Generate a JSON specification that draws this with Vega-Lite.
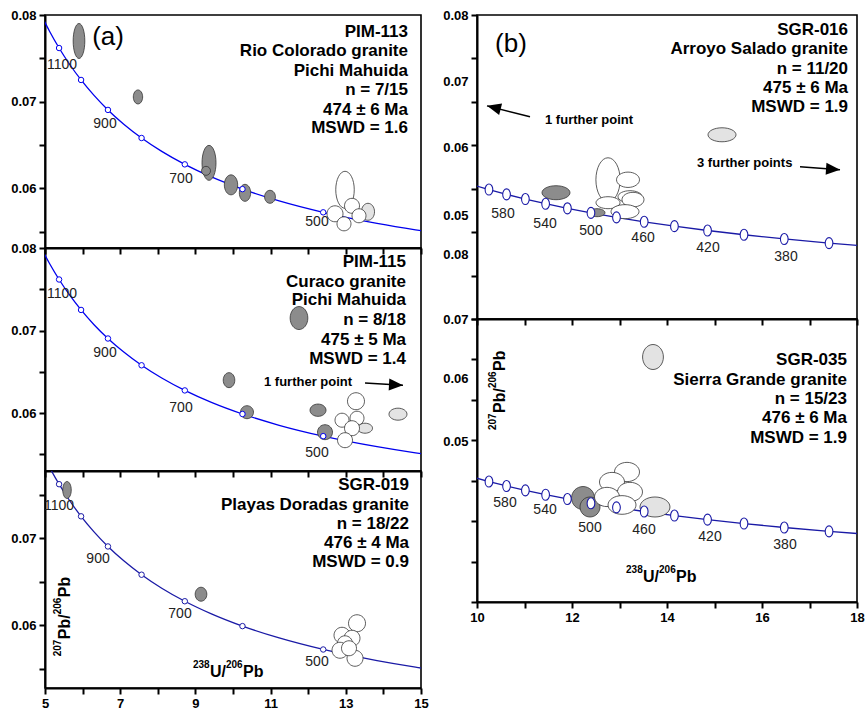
{
"$schema": "https://vega.github.io/schema/vega-lite/v6.json",
"padding": {"left": 9, "top": 8, "right": 4, "bottom": 4},
"background": "white",
"config": {
  "font": "Liberation Sans",
  "view": {"stroke": "#000", "strokeWidth": 1.6},
  "axis": {"labelFont": "Liberation Sans", "labelFontWeight": "bold", "labelFontSize": 13, "labelColor": "#000", "domainColor": "#000", "domainWidth": 2, "tickColor": "#000", "tickWidth": 2, "tickSize": 6, "labelPadding": 3, "grid": false, "labelOverlap": false, "labelFlush": false, "title": null}
},
"datasets": {
  "curveL": [{"x":4.9783,"y":0.079315},{"x":5.12044,"y":0.078123},{"x":5.37459,"y":0.076187},{"x":5.65301,"y":0.074314},{"x":5.95934,"y":0.0725},{"x":6.29798,"y":0.070744},{"x":6.67432,"y":0.069042},{"x":7.095,"y":0.067395},{"x":7.56835,"y":0.065799},{"x":8.10492,"y":0.064254},{"x":8.71822,"y":0.062757},{"x":9.42596,"y":0.061306},{"x":10.25178,"y":0.059901},{"x":11.22787,"y":0.058539},{"x":12.39928,"y":0.057219},{"x":13.83117,"y":0.05594},{"x":14.85403,"y":0.05519},{"x":15.62122,"y":0.054701}],
  "mkL": [{"t":1100,"x":5.37459,"y":0.076187},{"t":1000,"x":5.95934,"y":0.0725},{"t":900,"x":6.67432,"y":0.069042},{"t":800,"x":7.56835,"y":0.065799},{"t":700,"x":8.71822,"y":0.062757},{"t":600,"x":10.25178,"y":0.059901},{"t":500,"x":12.39928,"y":0.057219}],
  "curveR": [{"t":620,"x":9.90545,"y":0.060458},{"t":600,"x":10.25178,"y":0.059901},{"t":580,"x":10.622,"y":0.059351},{"t":560,"x":11.0187,"y":0.058808},{"t":540,"x":11.44479,"y":0.058272},{"t":520,"x":11.90367,"y":0.057742},{"t":500,"x":12.39928,"y":0.057219},{"t":480,"x":12.93623,"y":0.056703},{"t":460,"x":13.51995,"y":0.056193},{"t":440,"x":14.15662,"y":0.055689},{"t":420,"x":14.85403,"y":0.05519},{"t":400,"x":15.62122,"y":0.054701},{"t":380,"x":16.46917,"y":0.054215},{"t":360,"x":17.41136,"y":0.053736},{"t":340,"x":18.4644,"y":0.053263}],
  "ell": [
    {"p":"a1","g":"d","s":"t3","e":35,"x":5.904,"y":0.077},
    {"p":"a1","g":"d","s":"t15","e":14,"x":7.473,"y":0.07054},
    {"p":"a1","g":"d","s":"t25","e":35,"x":9.362,"y":0.06293},
    {"p":"a1","g":"d","s":"c","e":9,"x":9.282,"y":0.06201},
    {"p":"a1","g":"d","s":"t15","e":20,"x":9.947,"y":0.06039},
    {"p":"a1","g":"d","s":"t15","e":17,"x":10.319,"y":0.05947},
    {"p":"a1","g":"d","s":"t12","e":13,"x":10.984,"y":0.05901},
    {"p":"a1","g":"l","s":"t13","e":17,"x":13.59,"y":0.05728},
    {"p":"a1","g":"w","s":"t2","e":37,"x":12.979,"y":0.05982},
    {"p":"a1","g":"w","s":"c","e":15,"x":13.165,"y":0.05797},
    {"p":"a1","g":"w","s":"c","e":14,"x":13.351,"y":0.05682},
    {"p":"a1","g":"w","s":"c","e":16,"x":12.713,"y":0.05705},
    {"p":"a1","g":"w","s":"c","e":14,"x":12.952,"y":0.05589},
    {"p":"a2","g":"d","s":"t13","e":23,"x":11.755,"y":0.07152},
    {"p":"a2","g":"d","s":"t13","e":15,"x":9.894,"y":0.064},
    {"p":"a2","g":"d","s":"c","e":13,"x":10.372,"y":0.06012},
    {"p":"a2","g":"d","s":"w13","e":16,"x":12.261,"y":0.06036},
    {"p":"a2","g":"w","s":"c","e":17,"x":13.271,"y":0.06145},
    {"p":"a2","g":"l","s":"w15","e":18,"x":14.388,"y":0.05988},
    {"p":"a2","g":"d","s":"c","e":15,"x":12.447,"y":0.0577},
    {"p":"a2","g":"l","s":"w15","e":15,"x":13.511,"y":0.05818},
    {"p":"a2","g":"w","s":"c","e":14,"x":12.899,"y":0.05915},
    {"p":"a2","g":"w","s":"c","e":14,"x":13.298,"y":0.05939},
    {"p":"a2","g":"w","s":"c","e":15,"x":13.165,"y":0.05818},
    {"p":"a2","g":"w","s":"c","e":15,"x":12.979,"y":0.05673},
    {"p":"a3","g":"d","s":"t2","e":17,"x":5.585,"y":0.07552},
    {"p":"a3","g":"d","s":"t12","e":14,"x":9.149,"y":0.06356},
    {"p":"a3","g":"w","s":"c","e":17,"x":13.298,"y":0.06023},
    {"p":"a3","g":"w","s":"c","e":16,"x":12.899,"y":0.05885},
    {"p":"a3","g":"w","s":"c","e":16,"x":13.165,"y":0.05851},
    {"p":"a3","g":"w","s":"c","e":15,"x":12.979,"y":0.05793},
    {"p":"a3","g":"w","s":"c","e":16,"x":12.846,"y":0.05713},
    {"p":"a3","g":"w","s":"c","e":16,"x":13.245,"y":0.05621},
    {"p":"a3","g":"w","s":"c","e":15,"x":13.085,"y":0.05736},
    {"p":"b1","g":"d","s":"w2","e":28,"x":11.663,"y":0.05954},
    {"p":"b1","g":"l","s":"w2","e":28,"x":15.158,"y":0.06621},
    {"p":"b1","g":"d","s":"w2","e":16,"x":12.526,"y":0.05724},
    {"p":"b1","g":"w","s":"t18","e":44,"x":12.758,"y":0.06103},
    {"p":"b1","g":"w","s":"w15","e":23,"x":13.179,"y":0.06103},
    {"p":"b1","g":"w","s":"w2","e":24,"x":13.221,"y":0.05908},
    {"p":"b1","g":"w","s":"w15","e":22,"x":13.284,"y":0.05874},
    {"p":"b1","g":"w","s":"w2","e":24,"x":12.758,"y":0.05839},
    {"p":"b1","g":"w","s":"w2","e":28,"x":13.116,"y":0.05736},
    {"p":"b2","g":"l","s":"t12","e":25,"x":13.705,"y":0.0753},
    {"p":"b2","g":"d","s":"c","e":23,"x":12.232,"y":0.05786},
    {"p":"b2","g":"d","s":"c","e":20,"x":12.379,"y":0.05675},
    {"p":"b2","g":"l","s":"w15","e":30,"x":13.747,"y":0.05675},
    {"p":"b2","g":"w","s":"w13","e":25,"x":13.158,"y":0.06108},
    {"p":"b2","g":"w","s":"w13","e":25,"x":12.842,"y":0.05984},
    {"p":"b2","g":"w","s":"w13","e":25,"x":13.221,"y":0.05861},
    {"p":"b2","g":"w","s":"w13","e":25,"x":12.737,"y":0.05799},
    {"p":"b2","g":"w","s":"w15","e":28,"x":13.053,"y":0.057}
  ],
  "lab": [
    {"p":"a1","k":"age","x":5.452,"y":0.07423,"t":"1100"},
    {"p":"a1","k":"age","x":6.596,"y":0.06743,"t":"900"},
    {"p":"a1","k":"age","x":8.617,"y":0.06108,"t":"700"},
    {"p":"a1","k":"age","x":12.234,"y":0.05612,"t":"500"},
    {"p":"a2","k":"age","x":5.452,"y":0.07442,"t":"1100"},
    {"p":"a2","k":"age","x":6.596,"y":0.06727,"t":"900"},
    {"p":"a2","k":"age","x":8.617,"y":0.06061,"t":"700"},
    {"p":"a2","k":"age","x":12.234,"y":0.05515,"t":"500"},
    {"p":"a3","k":"age","x":5.372,"y":0.07368,"t":"1100"},
    {"p":"a3","k":"age","x":6.41,"y":0.06759,"t":"900"},
    {"p":"a3","k":"age","x":8.59,"y":0.06126,"t":"700"},
    {"p":"a3","k":"age","x":12.234,"y":0.05575,"t":"500"},
    {"p":"b1","k":"age","x":10.547,"y":0.05713,"t":"580"},
    {"p":"b1","k":"age","x":11.432,"y":0.05598,"t":"540"},
    {"p":"b1","k":"age","x":12.4,"y":0.05517,"t":"500"},
    {"p":"b1","k":"age","x":13.495,"y":0.05437,"t":"460"},
    {"p":"b1","k":"age","x":14.863,"y":0.05322,"t":"420"},
    {"p":"b1","k":"age","x":16.505,"y":0.05218,"t":"380"},
    {"p":"b2","k":"age","x":10.589,"y":0.05724,"t":"580"},
    {"p":"b2","k":"age","x":11.432,"y":0.05638,"t":"540"},
    {"p":"b2","k":"age","x":12.379,"y":0.05415,"t":"500"},
    {"p":"b2","k":"age","x":13.516,"y":0.05391,"t":"460"},
    {"p":"b2","k":"age","x":14.905,"y":0.05304,"t":"420"},
    {"p":"b2","k":"age","x":16.484,"y":0.05205,"t":"380"},
    {"p":"a1","k":"title","x":14.654,"y":0.07804,"t":"PIM-113"},
    {"p":"a1","k":"title","x":14.654,"y":0.07585,"t":"Rio Colorado granite"},
    {"p":"a1","k":"title","x":14.654,"y":0.07354,"t":"Pichi Mahuida"},
    {"p":"a1","k":"title","x":14.654,"y":0.07135,"t":"n = 7/15"},
    {"p":"a1","k":"title","x":14.654,"y":0.06904,"t":"474 ± 6 Ma"},
    {"p":"a1","k":"title","x":14.654,"y":0.06697,"t":"MSWD = 1.6"},
    {"p":"a2","k":"title","x":14.601,"y":0.0783,"t":"PIM-115"},
    {"p":"a2","k":"title","x":14.601,"y":0.07588,"t":"Curaco granite"},
    {"p":"a2","k":"title","x":14.601,"y":0.0737,"t":"Pichi Mahuida"},
    {"p":"a2","k":"title","x":14.601,"y":0.07127,"t":"n = 8/18"},
    {"p":"a2","k":"title","x":14.601,"y":0.06885,"t":"475 ± 5 Ma"},
    {"p":"a2","k":"title","x":14.601,"y":0.06655,"t":"MSWD = 1.4"},
    {"p":"a3","k":"title","x":14.681,"y":0.07609,"t":"SGR-019"},
    {"p":"a3","k":"title","x":14.681,"y":0.07379,"t":"Playas Doradas granite"},
    {"p":"a3","k":"title","x":14.681,"y":0.07161,"t":"n = 18/22"},
    {"p":"a3","k":"title","x":14.681,"y":0.06943,"t":"476 ± 4 Ma"},
    {"p":"a3","k":"title","x":14.681,"y":0.06724,"t":"MSWD = 0.9"},
    {"p":"b1","k":"title","x":17.811,"y":0.07828,"t":"SGR-016"},
    {"p":"b1","k":"title","x":17.811,"y":0.07609,"t":"Arroyo Salado granite"},
    {"p":"b1","k":"title","x":17.811,"y":0.07379,"t":"n = 11/20"},
    {"p":"b1","k":"title","x":17.811,"y":0.07161,"t":"475 ± 6 Ma"},
    {"p":"b1","k":"title","x":17.811,"y":0.06943,"t":"MSWD = 1.9"},
    {"p":"b2","k":"title","x":17.789,"y":0.07493,"t":"SGR-035"},
    {"p":"b2","k":"title","x":17.789,"y":0.07246,"t":"Sierra Grande granite"},
    {"p":"b2","k":"title","x":17.789,"y":0.07011,"t":"n = 15/23"},
    {"p":"b2","k":"title","x":17.789,"y":0.06776,"t":"476 ± 6 Ma"},
    {"p":"b2","k":"title","x":17.789,"y":0.06528,"t":"MSWD = 1.9"},
    {"p":"a2","k":"note","x":10.824,"y":0.06376,"t":"1 further point"},
    {"p":"b1","k":"note","x":11.432,"y":0.06793,"t":"1 further point"},
    {"p":"b1","k":"note","x":14.632,"y":0.06299,"t":"3 further points"},
    {"p":"a1","k":"big","x":6.676,"y":0.07746,"t":"(a)"},
    {"p":"b1","k":"big","x":10.716,"y":0.07667,"t":"(b)"}
  ],
  "ttl": [
    {"p":"a3","k":"xt","x":8.936,"y":0.0546,"s1":"238","m1":"U/","s2":"206","m2":"Pb"},
    {"p":"a3","k":"yt","x":5.532,"y":0.05644,"s1":"207","m1":"Pb/","s2":"206","m2":"Pb"},
    {"p":"b2","k":"xt","x":13.137,"y":0.04809,"s1":"238","m1":"U/","s2":"206","m2":"Pb"},
    {"p":"b2","k":"yt","x":10.484,"y":0.06627,"s1":"207","m1":"Pb/","s2":"206","m2":"Pb"}
  ],
  "arr": [
    {"p":"a2","d":"r","x":13.511,"y":0.06364,"x2":14.521,"y2":0.06339},
    {"p":"b1","d":"l","x":11.116,"y":0.06828,"x2":10.211,"y2":0.06954},
    {"p":"b1","d":"r","x":16.8,"y":0.06253,"x2":17.642,"y2":0.06218}
  ]
},
"hconcat": [
  {
    "vconcat": [
      {
        "width": 376, "height": 233,
        "encoding": {
          "x": {"field":"x","type":"quantitative","scale":{"domain":[5,15]},"axis":{"values":[5,6,7,8,9,10,11,12,13,14,15],"labels":false}},
          "y": {"field":"y","type":"quantitative","scale":{"domain":[0.0531,0.08]},"axis":{"values":[0.055,0.06,0.065,0.07,0.075,0.08],"labelExpr":"round(datum.value*1000) % 10 == 0 ? format(datum.value,'.2f') : ''"}}
        },
        "layer": [
          {"data":{"name":"curveL"},"mark":{"type":"line","clip":true,"color":"#0000ee","strokeWidth":1.3,"interpolate":"monotone"}},
          {"data":{"name":"ell"},"transform":[{"filter":"datum.p=='a1'"}],"mark":{"type":"point","filled":true,"opacity":1,"stroke":"#333","strokeWidth":0.8,"clip":true},
           "encoding":{
             "shape":{"field":"s","type":"nominal","legend":null,"scale":{"domain":["c","t12","t13","t15","t18","t2","t25","t3","w13","w15","w2"],"range":["M 1 0 C 1 0.552 0.552 1 0 1 C -0.552 1 -1 0.552 -1 0 C -1 -0.552 -0.552 -1 0 -1 C 0.552 -1 1 -0.552 1 0 Z","M 0.833 0 C 0.833 0.552 0.46 1 0 1 C -0.46 1 -0.833 0.552 -0.833 0 C -0.833 -0.552 -0.46 -1 0 -1 C 0.46 -1 0.833 -0.552 0.833 0 Z","M 0.77 0 C 0.77 0.552 0.425 1 0 1 C -0.425 1 -0.77 0.552 -0.77 0 C -0.77 -0.552 -0.425 -1 0 -1 C 0.425 -1 0.77 -0.552 0.77 0 Z","M 0.667 0 C 0.667 0.552 0.368 1 0 1 C -0.368 1 -0.667 0.552 -0.667 0 C -0.667 -0.552 -0.368 -1 0 -1 C 0.368 -1 0.667 -0.552 0.667 0 Z","M 0.55 0 C 0.55 0.552 0.304 1 0 1 C -0.304 1 -0.55 0.552 -0.55 0 C -0.55 -0.552 -0.304 -1 0 -1 C 0.304 -1 0.55 -0.552 0.55 0 Z","M 0.5 0 C 0.5 0.552 0.276 1 0 1 C -0.276 1 -0.5 0.552 -0.5 0 C -0.5 -0.552 -0.276 -1 0 -1 C 0.276 -1 0.5 -0.552 0.5 0 Z","M 0.4 0 C 0.4 0.552 0.221 1 0 1 C -0.221 1 -0.4 0.552 -0.4 0 C -0.4 -0.552 -0.221 -1 0 -1 C 0.221 -1 0.4 -0.552 0.4 0 Z","M 0.333 0 C 0.333 0.552 0.184 1 0 1 C -0.184 1 -0.333 0.552 -0.333 0 C -0.333 -0.552 -0.184 -1 0 -1 C 0.184 -1 0.333 -0.552 0.333 0 Z","M 1 0 C 1 0.425 0.552 0.77 0 0.77 C -0.552 0.77 -1 0.425 -1 0 C -1 -0.425 -0.552 -0.77 0 -0.77 C 0.552 -0.77 1 -0.425 1 0 Z","M 1 0 C 1 0.368 0.552 0.667 0 0.667 C -0.552 0.667 -1 0.368 -1 0 C -1 -0.368 -0.552 -0.667 0 -0.667 C 0.552 -0.667 1 -0.368 1 0 Z","M 1 0 C 1 0.276 0.552 0.5 0 0.5 C -0.552 0.5 -1 0.276 -1 0 C -1 -0.276 -0.552 -0.5 0 -0.5 C 0.552 -0.5 1 -0.276 1 0 Z"]}},
             "size":{"field":"e","type":"quantitative","legend":null,"scale":{"type":"pow","exponent":2,"domain":[0,40],"range":[0,1600]}},
             "fill":{"field":"g","type":"nominal","legend":null,"scale":{"domain":["d","w","l"],"range":["#8c8c8c","#ffffff","#e3e3e3"]}}
           }},
          {"data":{"name":"mkL"},"mark":{"type":"point","shape":"circle","size":30,"filled":true,"fill":"#ffffff","stroke":"#0000ee","strokeWidth":1,"opacity":1}},
          {"data":{"name":"lab"},"transform":[{"filter":"datum.p=='a1' && datum.k=='age'"}],"mark":{"type":"text","fontSize":14,"color":"#222"},"encoding":{"text":{"field":"t"}}},
          {"data":{"name":"lab"},"transform":[{"filter":"datum.p=='a1' && datum.k=='title'"}],"mark":{"type":"text","fontSize":17,"fontWeight":"bold","align":"right","color":"#000"},"encoding":{"text":{"field":"t"}}},
          {"data":{"name":"lab"},"transform":[{"filter":"datum.p=='a1' && datum.k=='big'"}],"mark":{"type":"text","fontSize":26,"color":"#000"},"encoding":{"text":{"field":"t"}}}
        ]
      },
      {
        "width": 376, "height": 223,
        "encoding": {
          "x": {"field":"x","type":"quantitative","scale":{"domain":[5,15]},"axis":{"values":[5,6,7,8,9,10,11,12,13,14,15],"labels":false}},
          "y": {"field":"y","type":"quantitative","scale":{"domain":[0.053,0.08]},"axis":{"values":[0.055,0.06,0.065,0.07,0.075,0.08],"labelExpr":"round(datum.value*1000) % 10 == 0 ? format(datum.value,'.2f') : ''"}}
        },
        "layer": [
          {"data":{"name":"curveL"},"mark":{"type":"line","clip":true,"color":"#0000ee","strokeWidth":1.3,"interpolate":"monotone"}},
          {"data":{"name":"ell"},"transform":[{"filter":"datum.p=='a2'"}],"mark":{"type":"point","filled":true,"opacity":1,"stroke":"#333","strokeWidth":0.8,"clip":true},
           "encoding":{
             "shape":{"field":"s","type":"nominal","legend":null},
             "size":{"field":"e","type":"quantitative","legend":null,"scale":{"type":"pow","exponent":2,"domain":[0,40],"range":[0,1600]}},
             "fill":{"field":"g","type":"nominal","legend":null,"scale":{"domain":["d","w","l"],"range":["#8c8c8c","#ffffff","#e3e3e3"]}}
           }},
          {"data":{"name":"mkL"},"mark":{"type":"point","shape":"circle","size":30,"filled":true,"fill":"#ffffff","stroke":"#0000ee","strokeWidth":1,"opacity":1}},
          {"data":{"name":"lab"},"transform":[{"filter":"datum.p=='a2' && datum.k=='age'"}],"mark":{"type":"text","fontSize":14,"color":"#222"},"encoding":{"text":{"field":"t"}}},
          {"data":{"name":"lab"},"transform":[{"filter":"datum.p=='a2' && datum.k=='title'"}],"mark":{"type":"text","fontSize":17,"fontWeight":"bold","align":"right","color":"#000"},"encoding":{"text":{"field":"t"}}},
          {"data":{"name":"lab"},"transform":[{"filter":"datum.p=='a2' && datum.k=='note'"}],"mark":{"type":"text","fontSize":13,"fontWeight":"bold","align":"left","color":"#000"},"encoding":{"text":{"field":"t"}}},
          {"data":{"name":"arr"},"transform":[{"filter":"datum.p=='a2'"}],"mark":{"type":"rule","color":"#000","strokeWidth":1.5},"encoding":{"x2":{"field":"x2"},"y2":{"field":"y2"}}},
          {"data":{"name":"arr"},"transform":[{"filter":"datum.p=='a2'"}],"mark":{"type":"point","shape":"M 0 0 L -2 -0.85 L -2 0.85 Z","size":196,"filled":true,"fill":"#000","opacity":1,"angle":3},"encoding":{"x":{"field":"x2","type":"quantitative"},"y":{"field":"y2","type":"quantitative"}}}
        ]
      },
      {
        "width": 376, "height": 217,
        "encoding": {
          "x": {"field":"x","type":"quantitative","scale":{"domain":[5,15]},"axis":{"values":[5,6,7,8,9,10,11,12,13,14,15],"labelExpr":"datum.value % 2 == 1 ? datum.label : ''"}},
          "y": {"field":"y","type":"quantitative","scale":{"domain":[0.0528,0.0777]},"axis":{"values":[0.055,0.06,0.065,0.07,0.075],"labelExpr":"round(datum.value*1000) % 10 == 0 ? format(datum.value,'.2f') : ''"}}
        },
        "layer": [
          {"data":{"name":"curveL"},"mark":{"type":"line","clip":true,"color":"#1a1aa6","strokeWidth":1.3,"interpolate":"monotone"}},
          {"data":{"name":"ell"},"transform":[{"filter":"datum.p=='a3'"}],"mark":{"type":"point","filled":true,"opacity":1,"stroke":"#333","strokeWidth":0.8,"clip":true},
           "encoding":{
             "shape":{"field":"s","type":"nominal","legend":null},
             "size":{"field":"e","type":"quantitative","legend":null,"scale":{"type":"pow","exponent":2,"domain":[0,40],"range":[0,1600]}},
             "fill":{"field":"g","type":"nominal","legend":null,"scale":{"domain":["d","w","l"],"range":["#8c8c8c","#ffffff","#e3e3e3"]}}
           }},
          {"data":{"name":"mkL"},"mark":{"type":"point","shape":"circle","size":30,"filled":true,"fill":"#ffffff","stroke":"#1a1aa6","strokeWidth":1,"opacity":1}},
          {"data":{"name":"lab"},"transform":[{"filter":"datum.p=='a3' && datum.k=='age'"}],"mark":{"type":"text","fontSize":14,"color":"#222"},"encoding":{"text":{"field":"t"}}},
          {"data":{"name":"lab"},"transform":[{"filter":"datum.p=='a3' && datum.k=='title'"}],"mark":{"type":"text","fontSize":17,"fontWeight":"bold","align":"right","color":"#000"},"encoding":{"text":{"field":"t"}}},
          {"data":{"name":"ttl"},"transform":[{"filter":"datum.p=='a3' && datum.k=='xt'"}],"mark":{"type":"text","align":"left","fontSize":10,"fontWeight":"bold","dx":0,"dy":-7,"color":"#000"},"encoding":{"text":{"field":"s1"}}},
          {"data":{"name":"ttl"},"transform":[{"filter":"datum.p=='a3' && datum.k=='xt'"}],"mark":{"type":"text","align":"left","fontSize":16,"fontWeight":"bold","dx":17,"color":"#000"},"encoding":{"text":{"field":"m1"}}},
          {"data":{"name":"ttl"},"transform":[{"filter":"datum.p=='a3' && datum.k=='xt'"}],"mark":{"type":"text","align":"left","fontSize":10,"fontWeight":"bold","dx":33,"dy":-7,"color":"#000"},"encoding":{"text":{"field":"s2"}}},
          {"data":{"name":"ttl"},"transform":[{"filter":"datum.p=='a3' && datum.k=='xt'"}],"mark":{"type":"text","align":"left","fontSize":16,"fontWeight":"bold","dx":50,"color":"#000"},"encoding":{"text":{"field":"m2"}}},
          {"data":{"name":"ttl"},"transform":[{"filter":"datum.p=='a3' && datum.k=='yt'"}],"mark":{"type":"text","align":"left","angle":270,"fontSize":10,"fontWeight":"bold","dx":0,"dy":-7,"color":"#000"},"encoding":{"text":{"field":"s1"}}},
          {"data":{"name":"ttl"},"transform":[{"filter":"datum.p=='a3' && datum.k=='yt'"}],"mark":{"type":"text","align":"left","angle":270,"fontSize":16,"fontWeight":"bold","dx":17,"color":"#000"},"encoding":{"text":{"field":"m1"}}},
          {"data":{"name":"ttl"},"transform":[{"filter":"datum.p=='a3' && datum.k=='yt'"}],"mark":{"type":"text","align":"left","angle":270,"fontSize":10,"fontWeight":"bold","dx":42,"dy":-7,"color":"#000"},"encoding":{"text":{"field":"s2"}}},
          {"data":{"name":"ttl"},"transform":[{"filter":"datum.p=='a3' && datum.k=='yt'"}],"mark":{"type":"text","align":"left","angle":270,"fontSize":16,"fontWeight":"bold","dx":59,"color":"#000"},"encoding":{"text":{"field":"m2"}}}
        ]
      }
    ],
    "spacing": 0,
    "bounds": "flush",
    "resolve": {"scale": {"x":"independent","y":"independent"}}
  },
  {
    "vconcat": [
      {
        "width": 380, "height": 304,
        "encoding": {
          "x": {"field":"x","type":"quantitative","scale":{"domain":[10,18]},"axis":{"values":[10,11,12,13,14,15,16,17,18],"labels":false}},
          "y": {"field":"y","type":"quantitative","scale":{"domain":[0.045,0.08]},"axis":{"values":[0.08,0.075,0.07,0.065,0.06,0.055,0.05,0.045,0.0723,0.06471,0.0569,0.05241],"labelExpr":"datum.value==0.08?'0.08':datum.value==0.0723?'0.07':datum.value==0.06471?'0.06':datum.value==0.0569?'0.05':datum.value==0.05241?'0.08':''","tickOpacity":{"condition":{"test":"datum.value==0.0723||datum.value==0.06471||datum.value==0.0569||datum.value==0.05241","value":0},"value":1}}}
        },
        "layer": [
          {"data":{"name":"curveR"},"mark":{"type":"line","clip":true,"color":"#1a1aa6","strokeWidth":1.3}},
          {"data":{"name":"ell"},"transform":[{"filter":"datum.p=='b1'"}],"mark":{"type":"point","filled":true,"opacity":1,"stroke":"#333","strokeWidth":0.8,"clip":true},
           "encoding":{
             "shape":{"field":"s","type":"nominal","legend":null},
             "size":{"field":"e","type":"quantitative","legend":null,"scale":{"type":"pow","exponent":2,"domain":[0,40],"range":[0,1600]}},
             "fill":{"field":"g","type":"nominal","legend":null,"scale":{"domain":["d","w","l"],"range":["#8c8c8c","#ffffff","#e3e3e3"]}}
           }},
          {"data":{"name":"curveR"},"transform":[{"filter":"datum.t>=360 && datum.t<=600"}],"mark":{"type":"point","shape":"M 0.7 0 C 0.7 0.552 0.387 1 0 1 C -0.387 1 -0.7 0.552 -0.7 0 C -0.7 -0.552 -0.387 -1 0 -1 C 0.387 -1 0.7 -0.552 0.7 0 Z","size":121,"filled":true,"fill":"#ffffff","stroke":"#1a1aa6","strokeWidth":1.1,"opacity":1}},
          {"data":{"name":"lab"},"transform":[{"filter":"datum.p=='b1' && datum.k=='age'"}],"mark":{"type":"text","fontSize":14,"color":"#222"},"encoding":{"text":{"field":"t"}}},
          {"data":{"name":"lab"},"transform":[{"filter":"datum.p=='b1' && datum.k=='title'"}],"mark":{"type":"text","fontSize":17,"fontWeight":"bold","align":"right","color":"#000"},"encoding":{"text":{"field":"t"}}},
          {"data":{"name":"lab"},"transform":[{"filter":"datum.p=='b1' && datum.k=='note'"}],"mark":{"type":"text","fontSize":13,"fontWeight":"bold","align":"left","color":"#000"},"encoding":{"text":{"field":"t"}}},
          {"data":{"name":"lab"},"transform":[{"filter":"datum.p=='b1' && datum.k=='big'"}],"mark":{"type":"text","fontSize":26,"color":"#000"},"encoding":{"text":{"field":"t"}}},
          {"data":{"name":"arr"},"transform":[{"filter":"datum.p=='b1'"}],"mark":{"type":"rule","color":"#000","strokeWidth":1.5},"encoding":{"x2":{"field":"x2"},"y2":{"field":"y2"}}},
          {"data":{"name":"arr"},"transform":[{"filter":"datum.p=='b1' && datum.d=='r'"}],"mark":{"type":"point","shape":"M 0 0 L -2 -0.85 L -2 0.85 Z","size":196,"filled":true,"fill":"#000","opacity":1,"angle":4},"encoding":{"x":{"field":"x2","type":"quantitative"},"y":{"field":"y2","type":"quantitative"}}},
          {"data":{"name":"arr"},"transform":[{"filter":"datum.p=='b1' && datum.d=='l'"}],"mark":{"type":"point","shape":"M 0 0 L -2 -0.85 L -2 0.85 Z","size":196,"filled":true,"fill":"#000","opacity":1,"angle":194},"encoding":{"x":{"field":"x2","type":"quantitative"},"y":{"field":"y2","type":"quantitative"}}}
        ]
      },
      {
        "width": 380, "height": 283,
        "encoding": {
          "x": {"field":"x","type":"quantitative","scale":{"domain":[10,18]},"axis":{"values":[10,11,12,13,14,15,16,17,18],"labelExpr":"datum.value % 2 == 0 ? datum.label : ''"}},
          "y": {"field":"y","type":"quantitative","scale":{"domain":[0.045,0.08]},"axis":{"values":[0.08,0.075,0.07,0.065,0.06,0.055,0.05,0.045,0.07258,0.06479],"labelExpr":"datum.value==0.08?'0.07':datum.value==0.07258?'0.06':datum.value==0.06479?'0.05':''","tickOpacity":{"condition":{"test":"datum.value==0.07258||datum.value==0.06479","value":0},"value":1}}}
        },
        "layer": [
          {"data":{"name":"curveR"},"mark":{"type":"line","clip":true,"color":"#1a1aa6","strokeWidth":1.3}},
          {"data":{"name":"ell"},"transform":[{"filter":"datum.p=='b2'"}],"mark":{"type":"point","filled":true,"opacity":1,"stroke":"#333","strokeWidth":0.8,"clip":true},
           "encoding":{
             "shape":{"field":"s","type":"nominal","legend":null},
             "size":{"field":"e","type":"quantitative","legend":null,"scale":{"type":"pow","exponent":2,"domain":[0,40],"range":[0,1600]}},
             "fill":{"field":"g","type":"nominal","legend":null,"scale":{"domain":["d","w","l"],"range":["#8c8c8c","#ffffff","#e3e3e3"]}}
           }},
          {"data":{"name":"curveR"},"transform":[{"filter":"datum.t>=360 && datum.t<=600"}],"mark":{"type":"point","shape":"M 0.7 0 C 0.7 0.552 0.387 1 0 1 C -0.387 1 -0.7 0.552 -0.7 0 C -0.7 -0.552 -0.387 -1 0 -1 C 0.387 -1 0.7 -0.552 0.7 0 Z","size":121,"filled":true,"fill":"#ffffff","stroke":"#1a1aa6","strokeWidth":1.1,"opacity":1}},
          {"data":{"name":"lab"},"transform":[{"filter":"datum.p=='b2' && datum.k=='age'"}],"mark":{"type":"text","fontSize":14,"color":"#222"},"encoding":{"text":{"field":"t"}}},
          {"data":{"name":"lab"},"transform":[{"filter":"datum.p=='b2' && datum.k=='title'"}],"mark":{"type":"text","fontSize":17,"fontWeight":"bold","align":"right","color":"#000"},"encoding":{"text":{"field":"t"}}},
          {"data":{"name":"ttl"},"transform":[{"filter":"datum.p=='b2' && datum.k=='xt'"}],"mark":{"type":"text","align":"left","fontSize":10,"fontWeight":"bold","dx":0,"dy":-7,"color":"#000"},"encoding":{"text":{"field":"s1"}}},
          {"data":{"name":"ttl"},"transform":[{"filter":"datum.p=='b2' && datum.k=='xt'"}],"mark":{"type":"text","align":"left","fontSize":16,"fontWeight":"bold","dx":17,"color":"#000"},"encoding":{"text":{"field":"m1"}}},
          {"data":{"name":"ttl"},"transform":[{"filter":"datum.p=='b2' && datum.k=='xt'"}],"mark":{"type":"text","align":"left","fontSize":10,"fontWeight":"bold","dx":33,"dy":-7,"color":"#000"},"encoding":{"text":{"field":"s2"}}},
          {"data":{"name":"ttl"},"transform":[{"filter":"datum.p=='b2' && datum.k=='xt'"}],"mark":{"type":"text","align":"left","fontSize":16,"fontWeight":"bold","dx":50,"color":"#000"},"encoding":{"text":{"field":"m2"}}},
          {"data":{"name":"ttl"},"transform":[{"filter":"datum.p=='b2' && datum.k=='yt'"}],"mark":{"type":"text","align":"left","angle":270,"fontSize":10,"fontWeight":"bold","dx":0,"dy":-7,"color":"#000"},"encoding":{"text":{"field":"s1"}}},
          {"data":{"name":"ttl"},"transform":[{"filter":"datum.p=='b2' && datum.k=='yt'"}],"mark":{"type":"text","align":"left","angle":270,"fontSize":16,"fontWeight":"bold","dx":17,"color":"#000"},"encoding":{"text":{"field":"m1"}}},
          {"data":{"name":"ttl"},"transform":[{"filter":"datum.p=='b2' && datum.k=='yt'"}],"mark":{"type":"text","align":"left","angle":270,"fontSize":10,"fontWeight":"bold","dx":42,"dy":-7,"color":"#000"},"encoding":{"text":{"field":"s2"}}},
          {"data":{"name":"ttl"},"transform":[{"filter":"datum.p=='b2' && datum.k=='yt'"}],"mark":{"type":"text","align":"left","angle":270,"fontSize":16,"fontWeight":"bold","dx":59,"color":"#000"},"encoding":{"text":{"field":"m2"}}}
        ]
      }
    ],
    "spacing": 0,
    "bounds": "flush",
    "resolve": {"scale": {"x":"independent","y":"independent"}}
  }
],
"spacing": 11,
"resolve": {"scale": {"x":"independent","y":"independent"}}
}
